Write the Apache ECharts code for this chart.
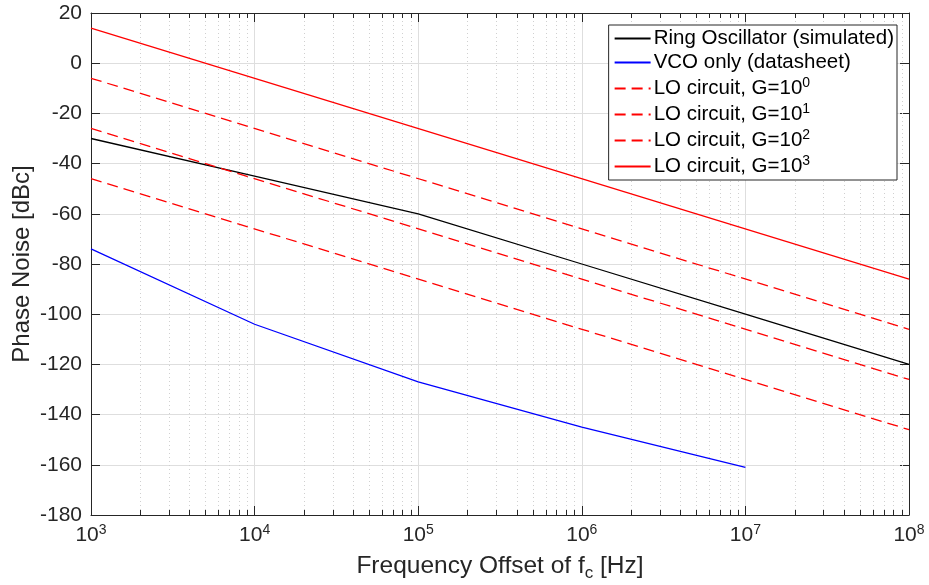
<!DOCTYPE html>
<html><head><meta charset="utf-8">
<script src="https://cdn.jsdelivr.net/npm/echarts@6/dist/echarts.min.js"></script>
<style>html,body{margin:0;padding:0;background:#fff}#c{width:929px;height:585px}</style>
</head><body><div id="c"></div>
<script>
// ---- data ----
const xDecades = [3, 4, 5, 6, 7, 8];            // tick labels 10^3 ... 10^8
const ringFreq = [1e3, 1e4, 1e5, 1e6, 1e7, 1e8];
const ringPN   = [-30, -45, -60, -80, -100, -120];
const vcoFreq  = [1e3, 1e4, 1e5, 1e6, 1e7];
const vcoPN    = [-74, -104, -127, -145, -161];
const loFreq   = [1e3, 1e8];
const loG0     = [-46, -146];
const loG1     = [-26, -126];
const loG2     = [-6, -106];
const loG3     = [14, -86];
const seriesNames = [
  'Ring Oscillator (simulated)',
  'VCO only (datasheet)',
  'LO circuit, G=10^0',
  'LO circuit, G=10^1',
  'LO circuit, G=10^2',
  'LO circuit, G=10^3'
];

const FONT = "'Liberation Sans', Arial, Helvetica, sans-serif";
const AX = '#262626';
const lg = v => Math.log10(v);
const pair = (f, p) => f.map((v, i) => [lg(v), p[i]]);

// minor grid positions (2..9 x 10^d) for the log axis
const minorX = [];
for (let d = xDecades[0]; d < xDecades[xDecades.length - 1]; d++)
  for (let k = 2; k <= 9; k++) minorX.push([lg(k * Math.pow(10, d)), -180]);

const chart = echarts.init(document.getElementById('c'), null, {renderer: 'canvas'});

const supRich = {
  b: {fontSize: 21, fontFamily: FONT, color: AX},
  s: {fontSize: 14, fontFamily: FONT, color: AX, padding: [0, 0, 11, 0]}
};

function mkLine(name, data, color, dashed) {
  return {
    name, type: 'line', data, showSymbol: false, symbol: 'none',
    xAxisIndex: 0, yAxisIndex: 0, z: 5, animation: false,
    lineStyle: {color, width: 1.3, type: dashed ? [11, 6] : 'solid'},
    itemStyle: {color}
  };
}

const option = {
  animation: false,
  backgroundColor: '#fff',
  textStyle: {fontFamily: FONT},
  grid: {left: 91, right: 20, top: 13, bottom: 70, containLabel: false, outerBoundsMode: 'none'},
  xAxis: [{
    type: 'value', min: 3, max: 8, interval: 1, position: 'bottom',
    name: '{a|Frequency Offset of f}{sub|c}{a| [Hz]}',
    nameLocation: 'middle', nameGap: 35, nameMoveOverlap: false,
    nameTextStyle: {
      rich: {
        a: {fontSize: 24.5, fontFamily: FONT, color: AX},
        sub: {fontSize: 17, fontFamily: FONT, color: AX, padding: [15, 0, 0, 0]}
      }
    },
    axisLine: {show: true, onZero: false, lineStyle: {color: AX, width: 1}},
    axisTick: {show: true, inside: true, length: 9, lineStyle: {color: AX}},
    axisLabel: {
      margin: 8,
      formatter: v => '{b|10}{s|' + v + '}',
      rich: supRich
    },
    splitLine: {show: true, lineStyle: {color: '#dedede', width: 1}}
  }, {
    type: 'value', min: 3, max: 8, interval: 1, position: 'top',
    axisLine: {show: true, onZero: false, lineStyle: {color: AX, width: 1}},
    axisTick: {show: true, inside: true, length: 9, lineStyle: {color: AX}},
    axisLabel: {show: false}, splitLine: {show: false}
  }],
  yAxis: [{
    type: 'value', min: -180, max: 20, interval: 20, position: 'left',
    name: 'Phase Noise [dBc]', nameLocation: 'middle', nameGap: 57, nameMoveOverlap: false,
    nameTextStyle: {fontSize: 24, fontFamily: FONT, color: AX},
    axisLine: {show: true, onZero: false, lineStyle: {color: AX, width: 1}},
    axisTick: {show: true, inside: true, length: 9, lineStyle: {color: AX}},
    axisLabel: {fontSize: 21, fontFamily: FONT, color: AX, margin: 9},
    splitLine: {show: true, lineStyle: {color: '#dedede', width: 1}}
  }, {
    type: 'value', min: -180, max: 20, interval: 20, position: 'right',
    axisLine: {show: true, onZero: false, lineStyle: {color: AX, width: 1}},
    axisTick: {show: true, inside: true, length: 9, lineStyle: {color: AX}},
    axisLabel: {show: false}, splitLine: {show: false}
  }],
  legend: {
    show: true, orient: 'vertical', right: 32, top: 25,
    data: seriesNames,
    backgroundColor: '#fff', borderColor: AX, borderWidth: 1,
    padding: [3, 3, 3, 5], itemGap: 3, itemWidth: 36, itemHeight: 14,
    selectedMode: false,
    itemStyle: {opacity: 0},
    formatter: n => {
      const m = n.match(/^(.*)\^(\d)$/);
      return m ? '{t|' + m[1] + '}{s|' + m[2] + '}' : '{t|' + n + '}';
    },
    textStyle: {
      fontSize: 20.5, fontFamily: FONT, color: '#000', padding: [0, 0, 0, -2],
      rich: {
        t: {fontSize: 20.5, fontFamily: FONT, color: '#000'},
        s: {fontSize: 14, fontFamily: FONT, color: '#000', padding: [0, 0, 11, 0]}
      }
    }
  },
  series: [
    {
      name: 'minorgrid', type: 'custom', silent: true, z: 1,
      xAxisIndex: 0, yAxisIndex: 0, data: minorX, encode: {x: 0, y: 1},
      renderItem: (params, api) => {
        const x = api.value(0);
        const t = api.coord([x, 20]);
        const b = api.coord([x, -180]);
        const px = Math.round(t[0]) + 0.5;
        return {
          type: 'group', children: [
            {type: 'line', shape: {x1: px, y1: t[1], x2: px, y2: b[1]},
             style: {stroke: '#d0d0d0', lineWidth: 1, lineDash: [1, 3]}},
            {type: 'line', shape: {x1: px, y1: b[1], x2: px, y2: b[1] - 5},
             style: {stroke: AX, lineWidth: 1}},
            {type: 'line', shape: {x1: px, y1: t[1], x2: px, y2: t[1] + 5},
             style: {stroke: AX, lineWidth: 1}}
          ]
        };
      }
    },
    mkLine(seriesNames[0], pair(ringFreq, ringPN), '#000000', false),
    mkLine(seriesNames[1], pair(vcoFreq, vcoPN), '#0000ff', false),
    mkLine(seriesNames[2], pair(loFreq, loG0), '#ff0000', true),
    mkLine(seriesNames[3], pair(loFreq, loG1), '#ff0000', true),
    mkLine(seriesNames[4], pair(loFreq, loG2), '#ff0000', true),
    mkLine(seriesNames[5], pair(loFreq, loG3), '#ff0000', false)
  ]
};
chart.setOption(option);
</script>
</body></html>
